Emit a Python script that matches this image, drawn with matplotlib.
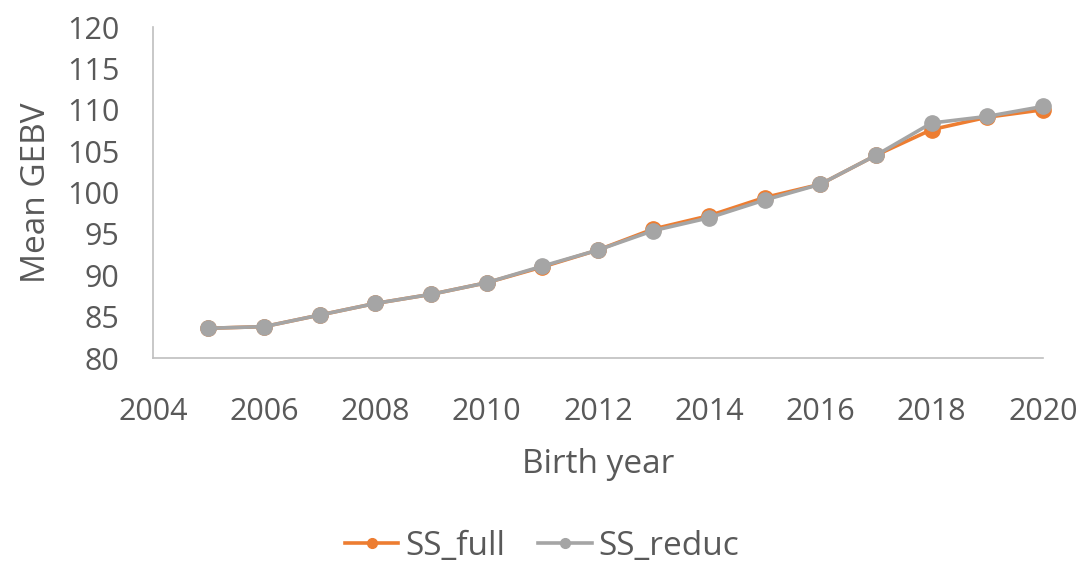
import matplotlib
matplotlib.use("Agg")
import matplotlib.pyplot as plt

years = [2005, 2006, 2007, 2008, 2009, 2010, 2011, 2012, 2013, 2014, 2015, 2016, 2017, 2018, 2019, 2020]
ss_full = [83.6, 83.8, 85.2, 86.6, 87.7, 89.1, 91.0, 93.05, 95.6, 97.2, 99.4, 101.0, 104.5, 107.6, 109.1, 110.0]
ss_reduc = [83.6, 83.8, 85.2, 86.6, 87.7, 89.1, 91.1, 93.05, 95.4, 96.95, 99.1, 101.0, 104.5, 108.4, 109.2, 110.4]
xticks = [2004, 2006, 2008, 2010, 2012, 2014, 2016, 2018, 2020]
yticks = [80, 85, 90, 95, 100, 105, 110, 115, 120]

plt.rcParams['font.family'] = ['Open Sans', 'DejaVu Sans']
fig = plt.figure(figsize=(10.84, 5.63), dpi=100)
ax = fig.add_axes([0.141, 0.364, 0.821, 0.588])

ax.plot(years, ss_full, color='#ED7D31', lw=2.6, marker='o', ms=11, label='SS_full', clip_on=False, zorder=3)
ax.plot(years, ss_reduc, color='#A5A5A5', lw=2.6, marker='o', ms=11, label='SS_reduc', clip_on=False, zorder=4)

ax.set_xlim(2004, 2020)
ax.set_ylim(80, 120)
ax.set_xticks(xticks)
ax.set_yticks(yticks)
ax.tick_params(axis='both', length=0, labelsize=22, colors='#595959')
ax.tick_params(axis='y', pad=24)
ax.tick_params(axis='x', pad=28)
for s in ['top', 'right']:
    ax.spines[s].set_visible(False)
for s in ['left', 'bottom']:
    ax.spines[s].set_color('#BFBFBF')
    ax.spines[s].set_linewidth(1.2)

ax.set_xlabel('Birth year', fontsize=24, color='#595959', labelpad=15)
ax.set_ylabel('Mean GEBV', fontsize=24, color='#595959', labelpad=10)

leg = fig.legend(loc='center', bbox_to_anchor=(0.5, 0.03), ncol=2, frameon=False,
                 fontsize=24, labelcolor='#595959', handlelength=1.6, columnspacing=1.0, handletextpad=0.2)
for h in leg.legend_handles:
    h.set_markersize(7)

fig.savefig('out.png', dpi=100)
